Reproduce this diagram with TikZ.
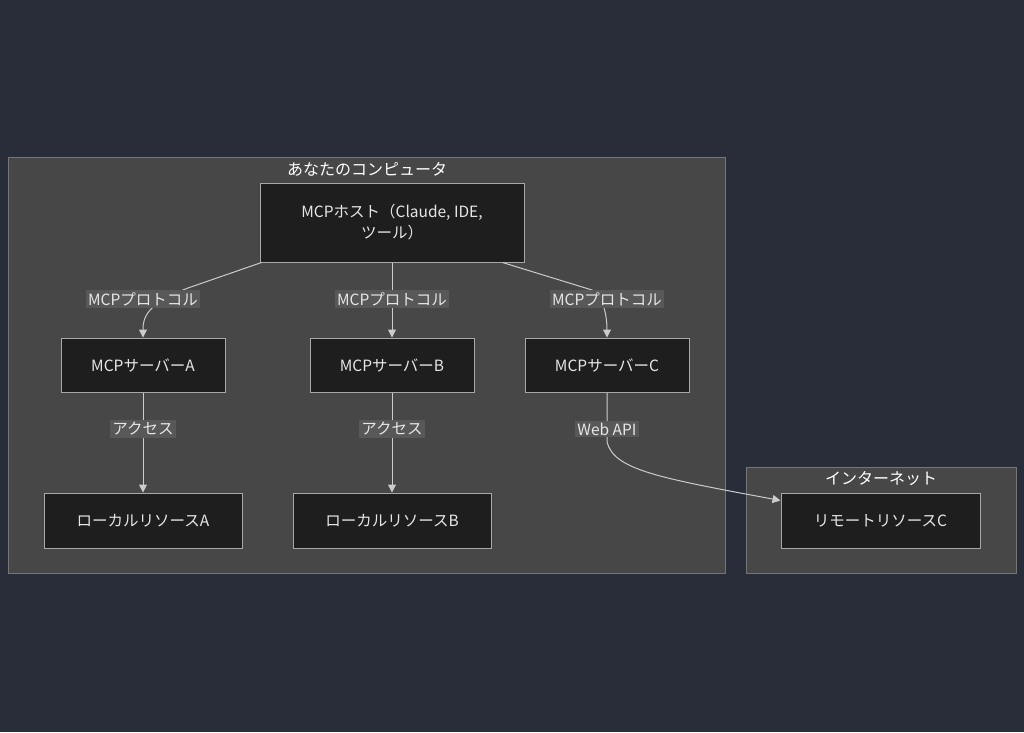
\documentclass[tikz,border=0pt]{standalone}
\usepackage{fontspec}
\setmainfont{Noto Sans CJK JP}
\usetikzlibrary{arrows.meta}
\definecolor{bgnavy}{HTML}{282D39}
\definecolor{clusterfill}{HTML}{474747}
\definecolor{clusterline}{HTML}{767676}
\definecolor{boxfill}{HTML}{1E1E1E}
\definecolor{boxline}{HTML}{A8A8A8}
\definecolor{labelfill}{HTML}{585858}
\definecolor{edgeline}{HTML}{CCCCCC}
\definecolor{txt}{HTML}{E6E6E6}
\begin{document}
\begin{tikzpicture}[x=1pt,y=-1pt]
        \tikzset{box/.style = {draw=boxline, line width=1pt, fill=boxfill, text=txt, inner sep=0pt,
                minimum width=164pt, minimum height=54pt, font=\fontsize{15.5}{21}\selectfont, align=center}};
        \tikzset{cluster/.style = {draw=clusterline, line width=1pt, fill=clusterfill}};
        \tikzset{title/.style = {text=white, inner sep=0pt, font=\fontsize{16}{18}\selectfont}};
        \tikzset{edgelabel/.style = {fill=labelfill, text=txt, inner sep=2pt, font=\fontsize{15.5}{17}\selectfont}};
        \tikzset{link/.style = {draw=edgeline, line width=1pt, -{Triangle[length=8pt,width=8pt]}}};
        % background and clusters
        \fill[bgnavy] (0,0) rectangle (1024,732);
        \useasboundingbox (0,0) rectangle (1024,732);
        \draw[cluster] (8,157) rectangle (725,573);
        \node[title] (pctitle) at (367,169) {あなたのコンピュータ};
        \draw[cluster] (746,467) rectangle (1016,573);
        \node[title] (nettitle) at (881,479) {インターネット};
        % nodes
        \node[box, minimum width=264pt, minimum height=79pt] (host) at (392,222.5) {MCPホスト（Claude, IDE,\\ツール）};
        \node[box] (srvA) at (143,365) {MCPサーバーA};
        \node[box] (srvB) at (392,365) {MCPサーバーB};
        \node[box] (srvC) at (607,365) {MCPサーバーC};
        \node[box, minimum width=198pt, minimum height=55pt] (resA) at (143,520.5) {ローカルリソースA};
        \node[box, minimum width=198pt, minimum height=55pt] (resB) at (392,520.5) {ローカルリソースB};
        \node[box, minimum width=199pt, minimum height=55pt] (resC) at (880.5,520.5) {リモートリソースC};
        % connectors
        \draw[link] (host.south west) ++(2,0) -- (188,288) .. controls (146,304) and (143,318) .. (srvA.north);
        \draw[link] (host.south) -- (srvB.north);
        \draw[link] (host.south east) ++(-22,0) -- (592,290) .. controls (604,296) and (607,318) .. (srvC.north);
        \draw[link] (srvA.south) -- (resA.north);
        \draw[link] (srvB.south) -- (resB.north);
        \coordinate (resCin) at ([yshift=-8pt]resC.north west);
        \draw[link] (srvC.south) -- (607,442) .. controls (614,470) and (660,478) .. (resCin);
        % edge labels
        \node[edgelabel] (protoA) at (143,299) {MCPプロトコル};
        \node[edgelabel] (protoB) at (392,299) {MCPプロトコル};
        \node[edgelabel] (protoC) at (607,299) {MCPプロトコル};
        \node[edgelabel] (accA) at (143,429) {アクセス};
        \node[edgelabel] (accB) at (392,429) {アクセス};
        \node[edgelabel] (webC) at (607,429) {Web API};
\end{tikzpicture}
\end{document}
